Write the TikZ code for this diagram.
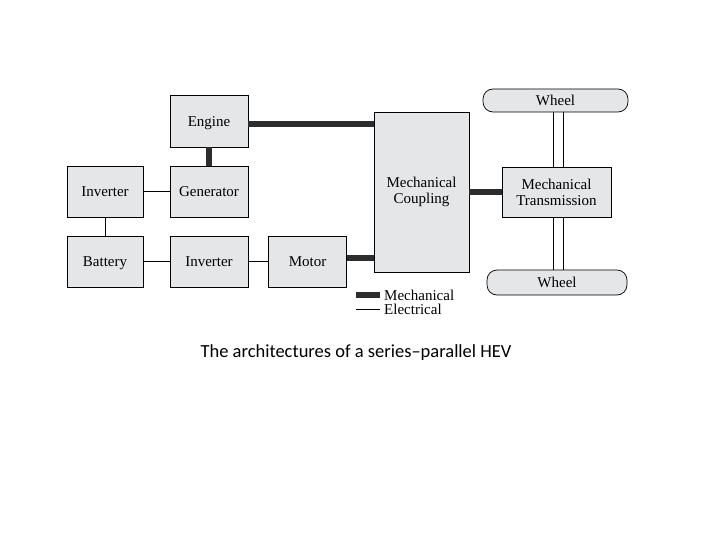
\documentclass[tikz,border=0pt]{standalone}
\usepackage{fontspec}
\setmainfont{Liberation Serif}
\newfontfamily\capfont{Carlito}
\definecolor{boxgray}{RGB}{229,230,232}
\definecolor{bardark}{RGB}{45,45,45}
\begin{document}
\begin{tikzpicture}[x=1pt,y=-1pt,
  blk/.style={draw=black,line width=0.7pt,fill=boxgray,minimum width=#1,inner sep=0pt,font=\fontsize{15}{16}\selectfont,align=center},
  blk/.default=78pt,
  oneline/.style={text height=11.5pt,text depth=1pt},
  wheelbox/.style={draw=black,line width=0.7pt,fill=boxgray,rounded corners=10pt,inner sep=0pt,font=\fontsize{15}{16}\selectfont,text height=11.5pt,text depth=1pt},
  mech/.style={draw=bardark,line width=6.5pt},
  elec/.style={draw=black,line width=0.7pt}]
\useasboundingbox (0,0) rectangle (720,540);
% blocks
\node[blk=78pt,oneline,minimum height=52pt] (engine) at (209,121) {Engine};
\node[blk=76pt,oneline,minimum height=51pt] (inv1) at (105,191.5) {Inverter};
\node[blk=78pt,oneline,minimum height=51pt] (gen) at (209,191.5) {Generator};
\node[blk=76pt,oneline,minimum height=51pt] (bat) at (105,261.5) {Battery};
\node[blk=78pt,oneline,minimum height=51pt] (inv2) at (209,261.5) {Inverter};
\node[blk=78pt,oneline,minimum height=51pt] (motor) at (307.5,261.5) {Motor};
\node[blk=95pt,minimum height=160pt] (coup) at (421.5,192) {Mechanical\\Coupling};
\node[blk=109pt,minimum height=50pt] (trans) at (556.5,192) {Mechanical\\Transmission};
\node[wheelbox,minimum width=145pt,minimum height=23pt] (w1) at (555.5,100.5) {Wheel};
\node[wheelbox,minimum width=140pt,minimum height=25pt] (w2) at (557,282.5) {Wheel};
% mechanical links
\draw[mech] ([yshift=-3pt]engine.east) -- ([yshift=-3pt]coup.west |- engine.east);
\draw[mech] (engine.south) -- (gen.north);
\draw[mech] ([yshift=3.5pt]motor.east) -- ([yshift=3.5pt]coup.west |- motor.east);
\draw[mech] (coup.east) -- (trans.west);
% electrical links
\draw[elec] (inv1.east) -- (gen.west);
\draw[elec] (inv1.south) -- (bat.north);
\draw[elec] (bat.east) -- (inv2.west);
\draw[elec] (inv2.east) -- (motor.west);
% shafts to wheels
\draw[elec] ([xshift=-2.5pt]w1.south) -- ([xshift=-2.5pt]w1.south |- trans.north);
\draw[elec] ([xshift=7.5pt]w1.south) -- ([xshift=7.5pt]w1.south |- trans.north);
\draw[elec] ([xshift=-4pt]w2.north) -- ([xshift=-4pt]w2.north |- trans.south);
\draw[elec] ([xshift=6pt]w2.north) -- ([xshift=6pt]w2.north |- trans.south);
% legend
\coordinate (lm1) at (356,295);
\coordinate (lm2) at (380,295);
\coordinate (le1) at (356,309);
\coordinate (le2) at (380,309);
\draw[mech] (lm1) -- (lm2);
\draw[elec] (le1) -- (le2);
\node[anchor=west,inner sep=0pt,font=\fontsize{15}{16}\selectfont] (lmt) at (384,295) {Mechanical};
\node[anchor=west,inner sep=0pt,font=\fontsize{15}{16}\selectfont] (let) at (384,309) {Electrical};
% caption
\node[font=\capfont\fontsize{18.5}{21}\selectfont,inner sep=0pt] (cap) at (356,353) {The architectures of a series–parallel HEV};
\end{tikzpicture}
\end{document}
